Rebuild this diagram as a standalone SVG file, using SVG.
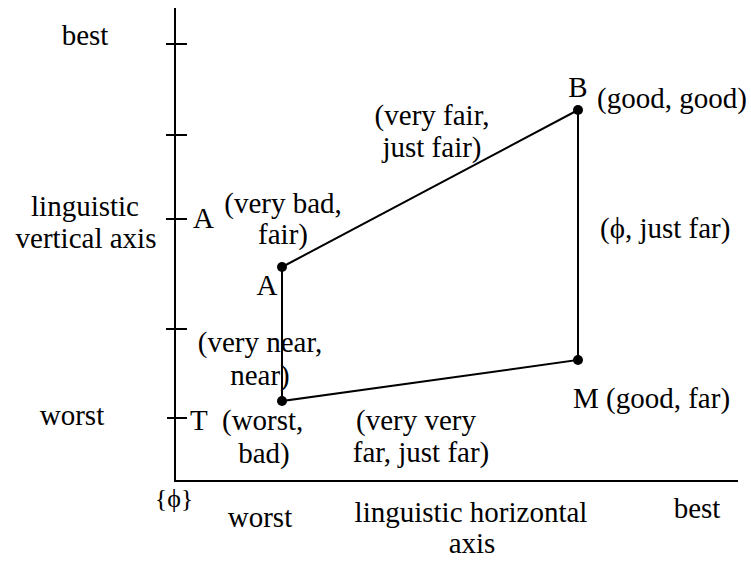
<svg xmlns="http://www.w3.org/2000/svg" width="751" height="563" viewBox="0 0 751 563">
<style>
text{font-family:'Liberation Serif','Times New Roman','DejaVu Serif',serif;font-size:29px;fill:#000}
.m{text-anchor:middle}
.ax{stroke:#000;stroke-width:2;fill:none}
.ln{stroke:#000;stroke-width:2;fill:none}
</style>
<rect width="751" height="563" fill="#fff"/>
<g id="axes">
<path class="ax" d="M175,8 V481 H738"/>
<path class="ax" d="M166,44 H187 M166,135 H187 M166,219 H187 M166,329 H187 M167,418 H187"/>
</g>
<g id="connectors">
<path class="ln" d="M282,267 L578,110 L578,360 L282,401 Z"/>
</g>
<g id="node-A"><circle cx="282" cy="267" r="5"/><text class="m" x="267" y="295">A</text></g>
<g id="node-B"><circle cx="578" cy="110" r="5"/><text class="m" x="578" y="97">B</text><text x="597" y="108">(good, good)</text></g>
<g id="node-M"><circle cx="578" cy="360" r="5"/><text x="573" y="408">M (good, far)</text></g>
<g id="node-T"><circle cx="282" cy="401" r="5"/><text x="190" y="430">T</text><text x="222" y="430">(worst,</text><text class="m" x="264" y="463">bad)</text></g>
<g id="labels">
<text class="m" x="85" y="45">best</text>
<text class="m" x="85" y="216">linguistic</text>
<text class="m" x="86" y="248">vertical axis</text>
<text class="m" x="72" y="425">worst</text>
<text class="m" x="174" y="507" style="font-size:26px">{ϕ}</text>
<text class="m" x="260" y="527">worst</text>
<text class="m" x="471" y="522">linguistic horizontal</text>
<text class="m" x="472" y="553">axis</text>
<text class="m" x="697" y="518">best</text>
<text x="193" y="228">A</text>
<text class="m" x="283" y="213">(very bad,</text>
<text class="m" x="283" y="244">fair)</text>
<text class="m" x="432" y="125">(very fair,</text>
<text class="m" x="432" y="157">just fair)</text>
<text x="600" y="238">(ϕ, just far)</text>
<text class="m" x="260" y="352">(very near,</text>
<text class="m" x="260" y="385">near)</text>
<text class="m" x="416" y="430">(very very</text>
<text class="m" x="421" y="462">far, just far)</text>
</g>
</svg>
